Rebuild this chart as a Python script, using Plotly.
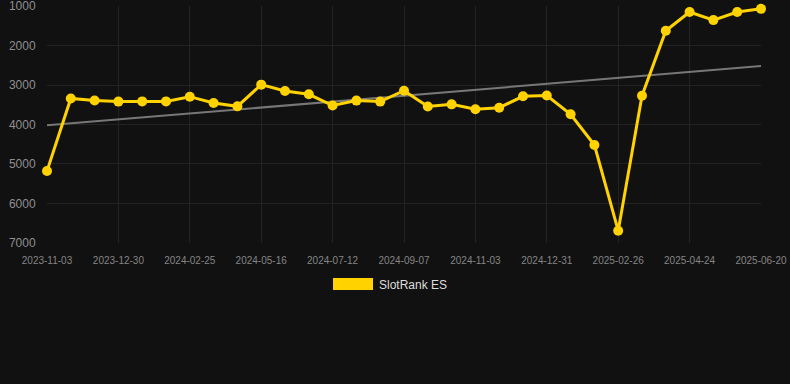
import plotly.graph_objects as go

dates = [
    "2023-11-03", "2023-11-22", "2023-12-11", "2023-12-30", "2024-01-18", "2024-02-06",
    "2024-02-25", "2024-03-22", "2024-04-19", "2024-05-16", "2024-06-04", "2024-06-23",
    "2024-07-12", "2024-07-31", "2024-08-19", "2024-09-07", "2024-09-26", "2024-10-15",
    "2024-11-03", "2024-11-22", "2024-12-11", "2024-12-31", "2025-01-19", "2025-02-07",
    "2025-02-26", "2025-03-17", "2025-04-05", "2025-04-24", "2025-05-13", "2025-06-01",
    "2025-06-20",
]
rank_es = [
    5180, 3340, 3390, 3420, 3415, 3415,
    3295, 3455, 3540, 2990, 3150, 3235,
    3520, 3395, 3420, 3145, 3545, 3490,
    3615, 3575, 3285, 3265, 3740, 4520,
    6690, 3270, 1625, 1150, 1355, 1150,
    1070,
]
tick_dates = [
    "2023-11-03", "2023-12-30", "2024-02-25", "2024-05-16", "2024-07-12", "2024-09-07",
    "2024-11-03", "2024-12-31", "2025-02-26", "2025-04-24", "2025-06-20",
]
trend_x = ["2023-11-03", "2025-06-20"]
trend_y = [4020, 2520]
y_ticks = [1000, 2000, 3000, 4000, 5000, 6000, 7000]
series_name = "SlotRank ES"

GOLD = "#FFD200"
BG = "#111111"
GRID = "#232323"

fig = go.Figure()
fig.add_trace(go.Scatter(
    x=trend_x, y=trend_y, mode="lines",
    line=dict(color="#777777", width=2), showlegend=False, hoverinfo="skip",
))
fig.add_trace(go.Scatter(
    x=dates, y=rank_es, mode="lines+markers", name=series_name,
    line=dict(color=GOLD, width=3), marker=dict(color=GOLD, size=10),
    showlegend=False, cliponaxis=False,
))

fig.update_layout(
    width=790, height=384,
    paper_bgcolor=BG, plot_bgcolor=BG,
    margin=dict(l=47, r=29, t=6, b=141),
    font=dict(family="Liberation Sans, Arial, sans-serif"),
    xaxis=dict(
        type="category", categoryorder="array", categoryarray=dates,
        range=[0, len(dates) - 1],
        tickvals=tick_dates, ticktext=tick_dates,
        tickfont=dict(size=10, color="#858585"),
        showgrid=True, gridcolor=GRID, gridwidth=1,
        zeroline=False, showline=False,
        ticks="outside", ticklen=8, tickcolor="rgba(0,0,0,0)",
        tickangle=0, ticklabeloverflow="allow", automargin=False,
    ),
    yaxis=dict(
        range=[7002, 998], tickvals=y_ticks,
        tickfont=dict(size=12, color="#8f8f8f"),
        showgrid=True, gridcolor=GRID, gridwidth=1,
        zeroline=False, showline=False,
        ticks="outside", ticklen=8, tickcolor="rgba(0,0,0,0)",
        ticklabeloverflow="allow", automargin=False,
    ),
    showlegend=False,
)

# legend drawn as a swatch + text
fig.add_shape(type="rect", xref="paper", yref="paper",
              x0=(333 - 47) / 714, x1=(373 - 47) / 714,
              y0=(243 - 290) / 237, y1=(243 - 278) / 237,
              fillcolor=GOLD, line=dict(width=0))
fig.add_annotation(text=series_name, xref="paper", yref="paper",
                   x=(377 - 47) / 714, y=(243 - 285) / 237,
                   xanchor="left", yanchor="middle", showarrow=False,
                   font=dict(size=12, color="#dddddd"))

fig.write_html(
    "out.html",
    config={"displayModeBar": False},
    post_script="document.body.style.margin='0';document.body.style.background='#111111';",
)
